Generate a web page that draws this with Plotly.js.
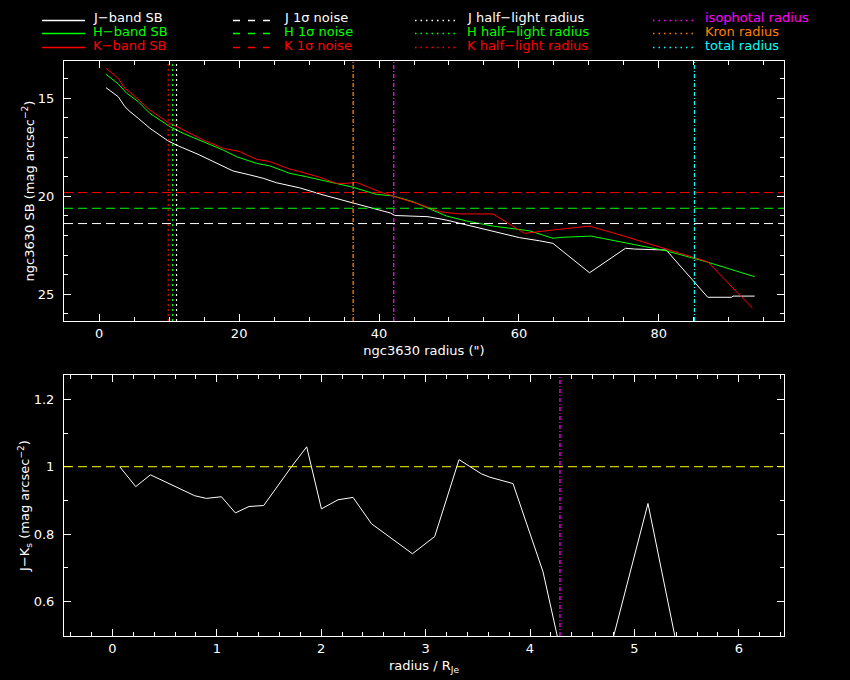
<!DOCTYPE html>
<html>
<head>
<meta charset="utf-8">
<script src="https://cdn.plot.ly/plotly-3.0.1.min.js"></script>
<style>
  html, body { margin: 0; padding: 0; background: #000; }
</style>
</head>
<body>
<div id="chart" style="width:850px;height:680px;"></div>
<script>
// surface brightness profiles, radius in arcsec
const rJ = [0.96, 2.71, 3.67, 4.39, 5.57, 7.24, 9.86, 11.29, 14.14, 16.77, 19.14, 21.53, 23.43, 25.34,
  28.67, 32.0, 35.34, 38.2, 41.6, 42.3, 47.0, 49.6, 52.5, 55.3, 58.2, 60.1, 62.96, 64.86, 70.1,
  75.24, 76.5, 81.06, 87.0, 90.4, 90.6, 93.7];
const sbJ = [14.46, 14.92, 15.43, 15.68, 16.02, 16.53, 17.18, 17.43, 17.86, 18.32, 18.71, 18.91, 19.08, 19.31,
  19.57, 19.93, 20.24, 20.53, 20.85, 20.98, 21.04, 21.21, 21.46, 21.68, 21.94, 22.11, 22.27, 22.40, 23.9,
  22.65, 22.69, 22.74, 25.15, 25.15, 25.09, 25.09];

const rH = [0.96, 2.71, 3.91, 5.57, 7.24, 10.1, 12.0, 14.86, 17.71, 19.63, 22.49, 24.39, 27.24, 29.6,
  33.4, 36.3, 39.6, 42.0, 44.86, 47.7, 49.6, 52.5, 56.3, 58.7, 61.5, 64.86, 66.3, 70.3, 75.3, 81.06,
  86.8, 93.7];
const sbH = [13.78, 14.27, 14.74, 15.17, 15.77, 16.45, 16.79, 17.21, 17.64, 17.98, 18.32, 18.45, 18.83, 19.0,
  19.31, 19.54, 19.9, 19.98, 20.28, 20.73, 21.0, 21.26, 21.52, 21.63, 21.76, 22.14, 22.09, 22.03, 22.37, 22.78,
  23.34, 24.1];

const rK = [0.96, 2.71, 3.67, 4.86, 7.24, 9.86, 11.53, 14.86, 17.71, 20.1, 21.06, 22.49, 24.39, 27.24,
  28.67, 31.53, 33.9, 35.3, 36.77, 38.2, 40.1, 42.5, 45.8, 48.7, 51.5, 56.3, 58.7, 60.8, 64.86, 70.1,
  75.3, 81.06, 87.0, 93.4];
const sbK = [13.47, 13.98, 14.49, 14.83, 15.6, 16.24, 16.53, 17.13, 17.55, 17.72, 17.89, 18.11, 18.23, 18.61,
  18.74, 19.03, 19.34, 19.34, 19.29, 19.51, 19.77, 20.05, 20.41, 20.79, 20.9, 20.9, 21.41, 21.89, 21.72, 21.52,
  22.06, 22.7, 23.34, 25.71];

// 1 sigma noise levels (mag arcsec^-2)
const noiseJ = 21.39, noiseH = 20.61, noiseK = 19.81;
// radii (arcsec)
const halfJ = 11.05, halfH = 10.48, halfK = 9.86;
const isoRadius = 42.1, kronRadius = 36.3, totalRadius = 85.1;

// colour profile
const ratioJK = [0.070, 0.223, 0.364, 0.788, 0.900, 1.044, 1.178, 1.308, 1.449, 1.720, 1.861, 2.002,
  2.161, 2.305, 2.481, 2.874, 3.087, 3.320, 3.534, 3.614, 3.837, 4.125, 4.51, 5.130, 5.55];
const colJK = [1.000, 0.941, 0.976, 0.914, 0.906, 0.911, 0.863, 0.882, 0.885, 1.002, 1.059, 0.875,
  0.902, 0.909, 0.831, 0.742, 0.793, 1.021, 0.979, 0.969, 0.950, 0.688, 0.15, 0.891, 0.25];
const isoRatio = 4.287;
const refColour = 1.0;

// legend columns
const legSB = ['J\u2212band SB', 'H\u2212band SB', 'K\u2212band SB'];
const legNoise = ['J 1\u03c3 noise', 'H 1\u03c3 noise', 'K 1\u03c3 noise'];
const legHalf = ['J half\u2212light radius', 'H half\u2212light radius', 'K half\u2212light radius'];
const legRad = ['isophotal radius', 'Kron radius', 'total radius'];

const WHITE = '#ffffff', GREEN = '#00ff00', RED = '#ff0000';
const MAGENTA = '#ff00ff', ORANGE = '#ff8000', CYAN = '#00ffff', YELLOW = '#ffff00';
const bandCols = [WHITE, GREEN, RED];
const radCols = [MAGENTA, ORANGE, CYAN];

const DASH = '9px,5px';
const DOT = '2px,3px';
const DASHDOT = '4px,2px,1px,2px';

const W = 850, H = 680;
const M = { l: 64, r: 66, t: 61, b: 44 };
const px2x = px => (px - M.l) / (W - M.l - M.r);
const px2y = py => 1 - (py - M.t) / (H - M.t - M.b);

const FONT = 'DejaVu Sans';

const traces = [
  { x: rJ, y: sbJ, mode: 'lines', line: { color: WHITE, width: 1 }, xaxis: 'x', yaxis: 'y' },
  { x: rH, y: sbH, mode: 'lines', line: { color: GREEN, width: 1 }, xaxis: 'x', yaxis: 'y' },
  { x: rK, y: sbK, mode: 'lines', line: { color: RED, width: 1 }, xaxis: 'x', yaxis: 'y' },
  { x: ratioJK, y: colJK, mode: 'lines', line: { color: WHITE, width: 1 }, xaxis: 'x2', yaxis: 'y2' }
];

const shapes = [];
function hline(y, color, yref, dash) {
  shapes.push({ type: 'line', xref: yref === 'y' ? 'x domain' : 'x2 domain', yref: yref,
    x0: 0, x1: 1, y0: y, y1: y, line: { color: color, width: 1, dash: dash } });
}
function vline(x, color, xref, dash, w) {
  shapes.push({ type: 'line', xref: xref, yref: xref === 'x' ? 'y domain' : 'y2 domain',
    x0: x, x1: x, y0: 0, y1: 1, line: { color: color, width: w || 1, dash: dash } });
}

hline(noiseJ, WHITE, 'y', DASH);
hline(noiseH, GREEN, 'y', DASH);
hline(noiseK, RED, 'y', DASH);
vline(halfJ, WHITE, 'x', DOT, 1.2);
vline(halfH, GREEN, 'x', DOT, 1.2);
vline(halfK, RED, 'x', DOT, 1.2);
vline(isoRadius, MAGENTA, 'x', DASHDOT, 1.3);
vline(kronRadius, ORANGE, 'x', DASHDOT, 1.3);
vline(totalRadius, CYAN, 'x', DASHDOT, 1.3);

hline(refColour, YELLOW, 'y2', DASH);
vline(isoRatio, MAGENTA, 'x2', DASHDOT, 1.3);

// legend drawn by hand, four columns of three rows
const annotations = [];
const rowText = [17, 31, 45];
const rowLine = [20.5, 33.5, 47.5];
const columns = [
  { labels: legSB, cols: bandCols, dash: 'solid', x0: 42, x1: 85, tx: 91 },
  { labels: legNoise, cols: bandCols, dash: '7px,8px', x0: 233, x1: 277, tx: 282 },
  { labels: legHalf, cols: bandCols, dash: '1.5px,4px', x0: 415, x1: 457, tx: 465 },
  { labels: legRad, cols: radCols, dash: '1.5px,4px', x0: 653, x1: 695, tx: 703 }
];
columns.forEach(c => {
  c.labels.forEach((lab, i) => {
    shapes.push({ type: 'line', xref: 'paper', yref: 'paper',
      x0: px2x(c.x0), x1: px2x(c.x1), y0: px2y(rowLine[i]), y1: px2y(rowLine[i]),
      line: { color: c.cols[i], width: 1.3, dash: c.dash } });
    annotations.push({ xref: 'paper', yref: 'paper', x: px2x(c.tx), y: px2y(rowText[i]),
      xanchor: 'left', yanchor: 'middle', showarrow: false, text: lab,
      font: { family: FONT, size: 13, color: c.cols[i] } });
  });
});

const axisBase = {
  showline: true, linecolor: WHITE, linewidth: 1, mirror: 'allticks',
  ticks: 'inside', ticklen: 7, tickwidth: 1, tickcolor: WHITE,
  showgrid: false, zeroline: false,
  tickfont: { family: FONT, size: 13, color: WHITE }
};

const layout = {
  width: W, height: H,
  paper_bgcolor: '#000', plot_bgcolor: '#000',
  margin: M,
  showlegend: false,
  font: { family: FONT, size: 13, color: WHITE },
  xaxis: Object.assign({}, axisBase, {
    domain: [0, 1], anchor: 'y', range: [-5.04, 97.9], tick0: 0, dtick: 20,
    minor: { ticks: 'inside', ticklen: 4, dtick: 5, tickcolor: WHITE, showgrid: false },
    title: { text: 'ngc3630 radius (")', font: { family: FONT, size: 13, color: WHITE }, standoff: 6 }
  }),
  yaxis: Object.assign({}, axisBase, {
    domain: [px2y(321), 1], anchor: 'x', range: [26.36, 13.1], tick0: 0, dtick: 5,
    minor: { ticks: 'inside', ticklen: 4, dtick: 1, tickcolor: WHITE, showgrid: false },
    ticklabelstandoff: 6,
    title: { text: 'ngc3630 SB (mag arcsec<sup>\u22122</sup>)', font: { family: FONT, size: 13, color: WHITE }, standoff: 0 }
  }),
  xaxis2: Object.assign({}, axisBase, {
    domain: [0, 1], anchor: 'y2', range: [-0.464, 6.433], tick0: 0, dtick: 1,
    minor: { ticks: 'inside', ticklen: 4, dtick: 0.2, tickcolor: WHITE, showgrid: false },
    title: { text: 'radius / R<sub>Je</sub>', font: { family: FONT, size: 13, color: WHITE }, standoff: 6 }
  }),
  yaxis2: Object.assign({}, axisBase, {
    domain: [0, px2y(375)], anchor: 'x2', range: [0.498, 1.272], tick0: 0, dtick: 0.2,
    minor: { ticks: 'inside', ticklen: 4, dtick: 0.1, tickcolor: WHITE, showgrid: false },
    ticklabelstandoff: 6,
    title: { text: 'J\u2212K<sub>s</sub> (mag arcsec<sup>\u22122</sup>)', font: { family: FONT, size: 13, color: WHITE }, standoff: 0 }
  }),
  shapes: shapes,
  annotations: annotations
};

Plotly.newPlot('chart', traces, layout, { displayModeBar: false, staticPlot: true });
</script>
</body>
</html>
